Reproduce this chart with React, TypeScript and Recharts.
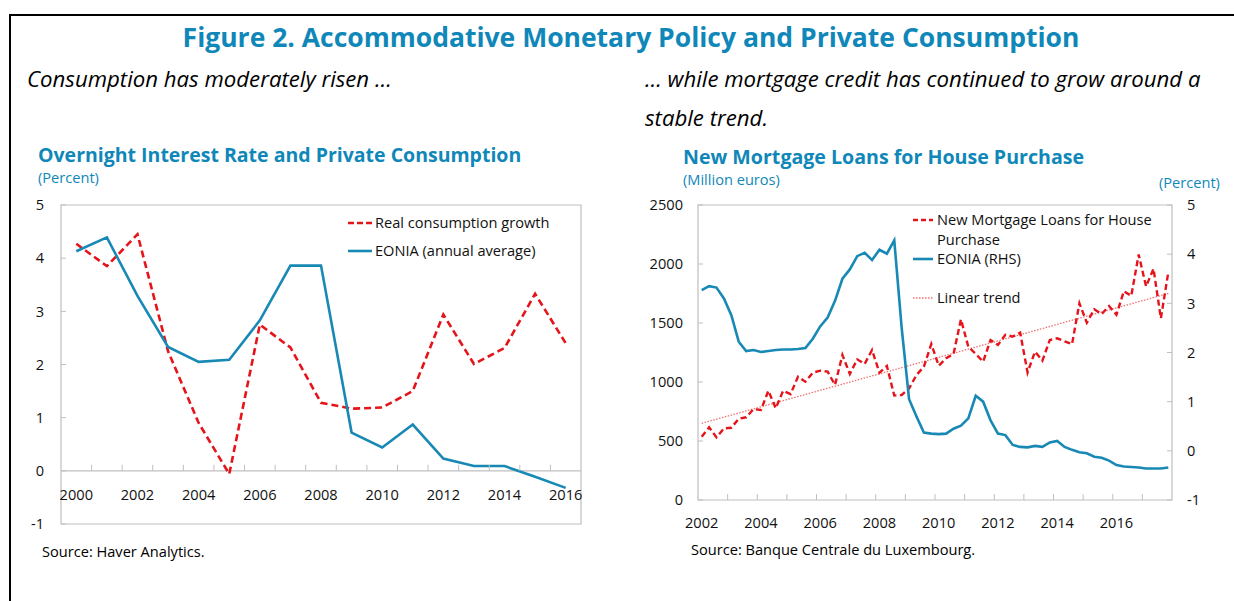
import React from 'react';
import { LineChart, Line, XAxis, YAxis, ReferenceLine, ReferenceArea } from 'recharts';

// ---------- Left chart data ----------
const years = [2000, 2001, 2002, 2003, 2004, 2005, 2006, 2007, 2008, 2009, 2010, 2011, 2012, 2013, 2014, 2015, 2016];
const consumptionGrowth = [4.27, 3.85, 4.45, 2.25, 0.9, -0.06, 2.75, 2.32, 1.28, 1.17, 1.19, 1.5, 2.94, 2.01, 2.31, 3.33, 2.4];
const eoniaAnnual = [4.13, 4.39, 3.29, 2.33, 2.05, 2.09, 2.83, 3.86, 3.86, 0.72, 0.44, 0.87, 0.23, 0.09, 0.09, -0.11, -0.32];
const leftXLabels = [2000, 2002, 2004, 2006, 2008, 2010, 2012, 2014, 2016];
const leftYTicks = [-1, 0, 1, 2, 3, 4, 5];

// ---------- Right chart data ----------
const quarterYears = [2002, 2003, 2004, 2005, 2006, 2007, 2008, 2009, 2010, 2011, 2012, 2013, 2014, 2015, 2016, 2017];
const quarterNames = ['Q1', 'Q2', 'Q3', 'Q4'];
const mortgageLoans = [
  537, 616, 531, 607,
  612, 689, 701, 770,
  763, 926, 777, 926,
  898, 1045, 1003, 1079,
  1096, 1088, 975, 1229,
  1068, 1192, 1153, 1271,
  1079, 1136, 885, 890,
  946, 1059, 1130, 1322,
  1138, 1201, 1237, 1531,
  1299, 1237, 1172, 1356,
  1314, 1400, 1385, 1418,
  1080, 1257, 1181, 1356,
  1370, 1345, 1320, 1667,
  1503, 1616, 1576, 1644,
  1570, 1770, 1730, 2080,
  1810, 1960, 1540, 1930,
];
const eoniaQuarterly = [
  3.27, 3.35, 3.32, 3.1,
  2.76, 2.22, 2.03, 2.05,
  2.01, 2.03, 2.05, 2.06,
  2.06, 2.07, 2.09, 2.28,
  2.53, 2.71, 3.05, 3.5,
  3.69, 3.96, 4.03, 3.88,
  4.09, 4.01, 4.28, 2.5,
  1.05, 0.7, 0.37, 0.35,
  0.34, 0.35, 0.45, 0.51,
  0.66, 1.12, 1.0, 0.62,
  0.35, 0.32, 0.12, 0.08,
  0.07, 0.1, 0.08, 0.17,
  0.2, 0.08, 0.02, -0.03,
  -0.05, -0.12, -0.14, -0.2,
  -0.29, -0.32, -0.33, -0.34,
  -0.36, -0.36, -0.36, -0.34,
];
const trendStart = 650;
const trendEnd = 1750;
const rightXLabels = [2002, 2004, 2006, 2008, 2010, 2012, 2014, 2016];
const rightLeftTicks = [0, 500, 1000, 1500, 2000, 2500];
const rightRightTicks = [-1, 0, 1, 2, 3, 4, 5];

// ---------- styles ----------
const FONT = '"Open Sans", "DejaVu Sans", sans-serif';
const TEAL = '#0f87b8';
const BLUE = '#1889b5';
const RED = '#e5141b';
const TREND = '#f07070';
const GRAY = '#bfbfbf';
const TXT = '#111';
const SMALL = 14.6;
const SUB = 22.2;

// build tables
const leftData = years.map((y, i) => ({ year: y, cons: consumptionGrowth[i], eonia: eoniaAnnual[i] }));
const leftXTicks = [...leftXLabels, ...years.slice(0, -1).map((y) => y + 0.5)].sort((a, b) => a - b);

const quarterLabels: string[] = [];
const quarterX: number[] = [];
quarterYears.forEach((y) =>
  quarterNames.forEach((q, qi) => {
    quarterLabels.push(`${y}${q}`);
    quarterX.push(y + (qi + 0.5) / 4);
  })
);
const rightData = quarterLabels.map((q, i) => ({ q, x: quarterX[i], loans: mortgageLoans[i], eonia: eoniaQuarterly[i] }));
const rightXTicks = [
  ...rightXLabels.map((y) => y + 0.125),
  ...quarterYears.slice(1).map((y) => y),
].sort((a, b) => a - b);

// ---------- custom ticks ----------
const LEFT_ZERO_OFFSET = 53.2; // distance from bottom (-1) to 0 line

const LeftXTick = (props: any) => {
  const { x, y, payload } = props;
  const v = payload.value as number;
  const zeroY = y - LEFT_ZERO_OFFSET;
  if (!Number.isInteger(v)) {
    return <line x1={x} x2={x} y1={zeroY} y2={zeroY - 6} stroke={GRAY} strokeWidth={1} />;
  }
  return (
    <text x={x} y={zeroY + 29} textAnchor="middle" fill={TXT} fontSize={SMALL} fontFamily={FONT}>
      {v}
    </text>
  );
};

const RightXTick = (props: any) => {
  const { x, y, payload } = props;
  const v = payload.value as number;
  if (Number.isInteger(v)) {
    return <line x1={x} x2={x} y1={y} y2={y - 6} stroke={GRAY} strokeWidth={1} />;
  }
  return (
    <text x={x} y={y + 28} textAnchor="middle" fill={TXT} fontSize={SMALL} fontFamily={FONT}>
      {Math.floor(v)}
    </text>
  );
};

const makeYTick = (side: 'left' | 'right', gap: number) => (props: any) => {
  const { x, y, payload } = props;
  const tx = side === 'left' ? x - gap : x + gap;
  const lx = side === 'left' ? x + 5 : x - 5;
  return (
    <g>
      <line x1={x} x2={lx} y1={y} y2={y} stroke={GRAY} strokeWidth={1} />
      <text x={tx} y={y} dy="0.36em" textAnchor={side === 'left' ? 'end' : 'start'} fill={TXT} fontSize={SMALL} fontFamily={FONT}>
        {payload.value}
      </text>
    </g>
  );
};

const LeftYTick = makeYTick('left', 17);
const RightLeftYTick = makeYTick('left', 15);
const RightRightYTick = makeYTick('right', 15);

// ---------- charts ----------
const LeftChart = () => (
  <LineChart width={620} height={360} data={leftData} margin={{ top: 15, right: 39, bottom: 0, left: 0 }}>
    <XAxis
      dataKey="year"
      type="number"
      domain={[1999.5, 2016.5]}
      ticks={leftXTicks}
      interval={0}
      tick={<LeftXTick />}
      tickSize={0}
      tickMargin={0}
      tickLine={false}
      axisLine={false}
      height={26}
      allowDataOverflow
    />
    <YAxis
      type="number"
      domain={[-1, 5]}
      ticks={leftYTicks}
      interval={0}
      tick={<LeftYTick />}
      tickSize={0}
      tickMargin={0}
      tickLine={false}
      axisLine={false}
      width={61}
      allowDataOverflow
    />
    <ReferenceArea x1={1999.5} x2={2016.5} y1={-1} y2={5} fill="none" stroke={GRAY} strokeWidth={1.2} ifOverflow="visible" />
    <ReferenceLine y={0} stroke={GRAY} strokeWidth={1.2} />
    <Line type="linear" dataKey="cons" stroke={RED} strokeWidth={2.6} strokeDasharray="7 4" dot={false} isAnimationActive={false} />
    <Line type="linear" dataKey="eonia" stroke={BLUE} strokeWidth={2.6} dot={false} isAnimationActive={false} />
  </LineChart>
);

const RightChart = () => (
  <LineChart width={594} height={360} data={rightData} margin={{ top: 15, right: 0, bottom: 0, left: 0 }}>
    <XAxis
      dataKey="x"
      type="number"
      domain={[2002, 2018]}
      ticks={rightXTicks}
      interval={0}
      tick={<RightXTick />}
      tickSize={0}
      tickMargin={0}
      tickLine={false}
      axisLine={false}
      height={50}
      allowDataOverflow
    />
    <YAxis
      yAxisId="left"
      type="number"
      domain={[0, 2500]}
      ticks={rightLeftTicks}
      interval={0}
      tick={<RightLeftYTick />}
      tickSize={0}
      tickMargin={0}
      tickLine={false}
      axisLine={false}
      width={58}
      allowDataOverflow
    />
    <YAxis
      yAxisId="right"
      orientation="right"
      type="number"
      domain={[-1, 5]}
      ticks={rightRightTicks}
      interval={0}
      tick={<RightRightYTick />}
      tickSize={0}
      tickMargin={0}
      tickLine={false}
      axisLine={false}
      width={62}
      allowDataOverflow
    />
    <ReferenceArea yAxisId="left" x1={2002} x2={2018} y1={0} y2={2500} fill="none" stroke={GRAY} strokeWidth={1.2} ifOverflow="visible" />
    <ReferenceLine
      yAxisId="left"
      segment={[
        { x: quarterX[0], y: trendStart },
        { x: quarterX[quarterX.length - 1], y: trendEnd },
      ]}
      stroke={TREND}
      strokeWidth={1.3}
      strokeDasharray="1.5 1.5"
    />
    <Line yAxisId="left" type="linear" dataKey="loans" stroke={RED} strokeWidth={2.4} strokeDasharray="6 3.5" dot={false} isAnimationActive={false} />
    <Line yAxisId="right" type="linear" dataKey="eonia" stroke={BLUE} strokeWidth={2.6} dot={false} isAnimationActive={false} />
  </LineChart>
);

// ---------- overlay texts ----------
const Overlay = () => (
  <svg width={1234} height={601} style={{ position: 'absolute', left: 0, top: 0, pointerEvents: 'none' }}>
    <text x={631} y={47} textAnchor="middle" fill={TEAL} fontFamily={FONT} fontWeight={700} fontSize={26.5}>
      Figure 2. Accommodative Monetary Policy and Private Consumption
    </text>
    <text x={27} y={87} fill="#000" fontFamily={FONT} fontStyle="italic" fontSize={SUB}>
      Consumption has moderately risen …
    </text>
    <text x={645} y={87} fill="#000" fontFamily={FONT} fontStyle="italic" fontSize={SUB}>
      … while mortgage credit has continued to grow around a
    </text>
    <text x={645} y={126} fill="#000" fontFamily={FONT} fontStyle="italic" fontSize={SUB}>
      stable trend.
    </text>

    <text x={38} y={162} fill={TEAL} fontFamily={FONT} fontWeight={700} fontSize={19.5}>
      Overnight Interest Rate and Private Consumption
    </text>
    <text x={38} y={183} fill={TEAL} fontFamily={FONT} fontSize={SMALL}>
      (Percent)
    </text>
    <text x={683} y={164} fill={TEAL} fontFamily={FONT} fontWeight={700} fontSize={19.6}>
      New Mortgage Loans for House Purchase
    </text>
    <text x={683} y={185} fill={TEAL} fontFamily={FONT} fontSize={SMALL}>
      (Million euros)
    </text>
    <text x={1159} y={188} fill={TEAL} fontFamily={FONT} fontSize={SMALL}>
      (Percent)
    </text>

    {/* left legend */}
    <line x1={348} x2={372} y1={223} y2={223} stroke={RED} strokeWidth={2.6} strokeDasharray="6 3" />
    <text x={375} y={228} fill={TXT} fontFamily={FONT} fontSize={SMALL}>Real consumption growth</text>
    <line x1={348} x2={372} y1={251} y2={251} stroke={BLUE} strokeWidth={2.6} />
    <text x={375} y={256} fill={TXT} fontFamily={FONT} fontSize={SMALL}>EONIA (annual average)</text>

    {/* right legend */}
    <line x1={913} x2={933} y1={220} y2={220} stroke={RED} strokeWidth={2.4} strokeDasharray="5 3" />
    <text x={937} y={225} fill={TXT} fontFamily={FONT} fontSize={SMALL}>New Mortgage Loans for House</text>
    <text x={937} y={245} fill={TXT} fontFamily={FONT} fontSize={SMALL}>Purchase</text>
    <line x1={913} x2={933} y1={259} y2={259} stroke={BLUE} strokeWidth={2.6} />
    <text x={937} y={264} fill={TXT} fontFamily={FONT} fontSize={SMALL}>EONIA (RHS)</text>
    <line x1={913} x2={933} y1={298} y2={298} stroke={TREND} strokeWidth={1.3} strokeDasharray="1.5 1.5" />
    <text x={937} y={303} fill={TXT} fontFamily={FONT} fontSize={SMALL}>Linear trend</text>

    <text x={42} y={557} fill="#000" fontFamily={FONT} fontSize={SMALL}>Source: Haver Analytics.</text>
    <text x={691} y={555} fill="#000" fontFamily={FONT} fontSize={SMALL}>Source: Banque Centrale du Luxembourg.</text>
  </svg>
);

export default function App() {
  return (
    <div style={{ position: 'absolute', left: 0, top: 0, width: 1234, height: 601, background: '#fff', overflow: 'hidden', fontFamily: FONT }}>
      <div style={{ position: 'absolute', left: 9, top: 14, width: 1300, height: 700, borderLeft: '2px solid #000', borderTop: '2px solid #000' }} />
      <div style={{ position: 'absolute', left: 0, top: 190 }}>
        <LeftChart />
      </div>
      <div style={{ position: 'absolute', left: 640, top: 190 }}>
        <RightChart />
      </div>
      <Overlay />
    </div>
  );
}
